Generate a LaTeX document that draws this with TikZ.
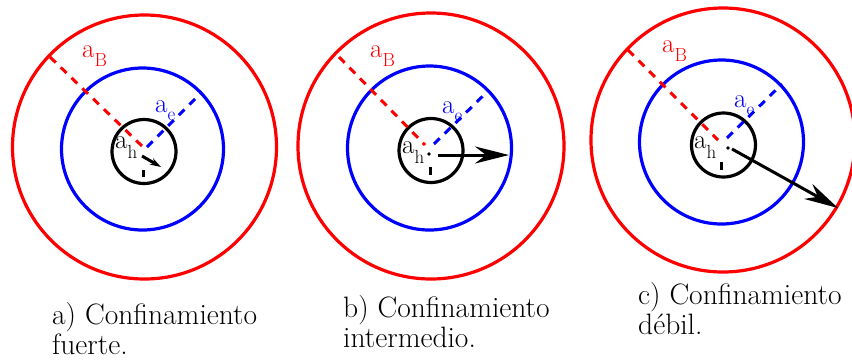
\documentclass[tikz,border=0pt]{standalone}
\usepackage{fontspec}
\usetikzlibrary{arrows.meta}
\newcommand\lsub[2]{\raisebox{-#1}{\fontsize{19}{19}\selectfont #2}}
\begin{document}
\begin{tikzpicture}[x=1pt,y=-1pt,
  ring/.style={line width=3.2pt},
  rad/.style={line width=3pt, dash pattern=on 8pt off 7pt},
  tick/.style={line width=3pt},
  lab/.style={inner sep=0pt, anchor=base west, font=\rmfamily\fontsize{27}{27}\selectfont},
  capt/.style={inner sep=0pt, anchor=base west, font=\rmfamily\fontsize{29.5}{30}\selectfont},
  bigarrow/.style={line width=3pt, -{Stealth[length=34pt,width=17pt]}},
  smallarrow/.style={line width=3pt, -{Stealth[length=11pt,width=7pt]}}]
\useasboundingbox (0,0) rectangle (852,360);

% ---------- panel a ----------
\draw[ring,red]  (144.5,147) circle[radius=132];
\draw[ring,blue] (142.5,149) circle[radius=81];
\draw[ring]      (144,151.5) circle[radius=32];
\coordinate (aRo) at (50,57);   \coordinate (aRi) at (143,147);
\coordinate (aBi) at (147,147); \coordinate (aBo) at (202,92);
\draw[rad,red]  (aRo) -- (aRi);
\draw[rad,blue] (aBi) -- (aBo);
\coordinate (aT1) at (143,170); \coordinate (aT2) at (143,177);
\draw[tick] (aT1) -- (aT2);
\coordinate (aA1) at (142,156); \coordinate (aA2) at (161,167);
\draw[smallarrow] (aA1) -- (aA2);
\node[lab,red]  (aLB) at (82,57)  {a\lsub{9pt}{B}};
\node[lab,blue] (aLE) at (155,112) {a\lsub{8pt}{e}};
\node[lab]      (aLH) at (115,148) {a\lsub{10pt}{h}};
\node[capt] (aC1) at (52,324) {a) Confinamiento};
\node[capt] (aC2) at (52,354) {fuerte.};

% ---------- panel b ----------
\draw[ring,red]  (431,146) circle[radius=133];
\draw[ring,blue] (429.5,148) circle[radius=82];
\draw[ring]      (431,150.5) circle[radius=32];
\coordinate (bRo) at (339,57);  \coordinate (bRi) at (425,145);
\coordinate (bBi) at (434,144); \coordinate (bBo) at (489,90);
\draw[rad,red]  (bRo) -- (bRi);
\draw[rad,blue] (bBi) -- (bBo);
\coordinate (bT1) at (430,167); \coordinate (bT2) at (430,175);
\draw[tick] (bT1) -- (bT2);
\fill (429,154) circle[radius=1.8];
\coordinate (bA1) at (438,155); \coordinate (bA2) at (509,155);
\draw[bigarrow] (bA1) -- (bA2);
\node[lab,red]  (bLB) at (370,57)  {a\lsub{9pt}{B}};
\node[lab,blue] (bLE) at (442,113) {a\lsub{8pt}{e}};
\node[lab]      (bLH) at (402,153) {a\lsub{10pt}{h}};
\node[capt] (bC1) at (343,317) {b) Confinamiento};
\node[capt] (bC2) at (343,347) {intermedio.};

% ---------- panel c ----------
\draw[ring,red]  (723,140) circle[radius=132];
\draw[ring,blue] (721.5,142) circle[radius=82];
\draw[ring]      (723.5,145) circle[radius=32];
\coordinate (cRo) at (628,50);  \coordinate (cRi) at (718,140);
\coordinate (cBi) at (727,138); \coordinate (cBo) at (782,84);
\draw[rad,red]  (cRo) -- (cRi);
\draw[rad,blue] (cBi) -- (cBo);
\coordinate (cT1) at (721,162); \coordinate (cT2) at (721,170);
\draw[tick] (cT1) -- (cT2);
\fill (728,148) circle[radius=1.8];
\coordinate (cA1) at (732,149); \coordinate (cA2) at (838,208);
\draw[bigarrow] (cA1) -- (cA2);
\node[lab,red]  (cLB) at (662,52)  {a\lsub{9pt}{B}};
\node[lab,blue] (cLE) at (734,107) {a\lsub{8pt}{e}};
\node[lab]      (cLH) at (694,148) {a\lsub{10pt}{h}};
\node[capt] (cC1) at (638,304) {c) Confinamiento};
\node[capt] (cC2) at (638,334) {débil.};
\end{tikzpicture}
\end{document}
